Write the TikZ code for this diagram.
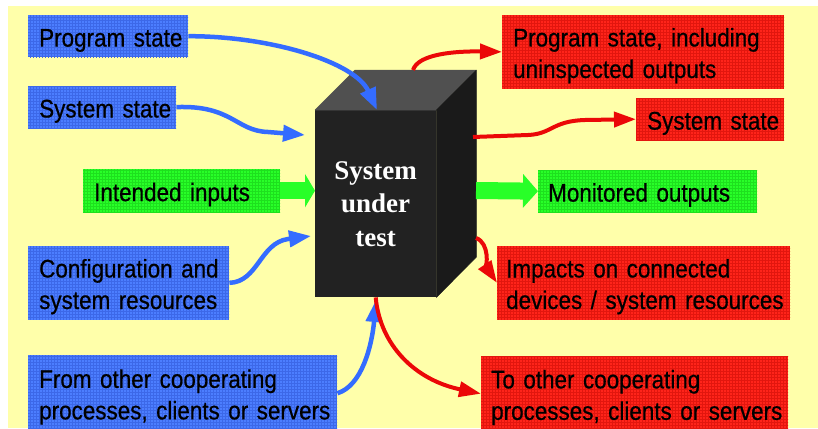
\documentclass[tikz,border=0pt]{standalone}
\usepackage{fontspec}
\newfontfamily\labelfont{Liberation Sans}[FakeStretch=0.88,FakeBold=0.6]
\newfontfamily\cubefont{Liberation Serif}
\usetikzlibrary{arrows.meta,patterns}

\definecolor{paper}{RGB}{255,255,170}
\definecolor{inbox}{RGB}{76,126,255}
\definecolor{inboxgrid}{RGB}{60,104,232}
\definecolor{outbox}{RGB}{255,36,26}
\definecolor{outboxgrid}{RGB}{226,22,14}
\definecolor{iobox}{RGB}{40,255,40}
\definecolor{ioboxgrid}{RGB}{30,224,30}
\definecolor{inflow}{RGB}{52,108,255}
\definecolor{outflow}{RGB}{235,8,8}
\definecolor{frontface}{RGB}{34,34,34}
\definecolor{topface}{RGB}{80,80,80}
\definecolor{sideface}{RGB}{26,26,26}

% struts fixing the first baseline and the last depth of each label
\newcommand\capstrut{\rule{0pt}{31.3pt}}
\newcommand\footstrut{\rule[-10.5pt]{0pt}{0pt}}

\begin{document}
\begin{tikzpicture}[x=1pt,y=-1pt,
  lbl/.style n args={4}{rectangle, anchor=north west, inner ysep=0pt,
    minimum width=#1, minimum height=#2, inner xsep=#3, text width=#4,
    align=left, text=black,
    font=\labelfont\fontsize{25.5}{31.5}\selectfont},
  inlbl/.style={fill=inbox, postaction={pattern=grid, pattern color=inboxgrid}},
  outlbl/.style={fill=outbox, postaction={pattern=grid, pattern color=outboxgrid}},
  iolbl/.style={fill=iobox, postaction={pattern=grid, pattern color=ioboxgrid}},
  inarrow/.style={draw=inflow, line width=4.5pt,
    -{Triangle[length=22pt,width=16pt]}},
  outarrow/.style={draw=outflow, line width=4pt,
    -{Triangle[length=22pt,width=15pt]}},
  flow/.style={draw=iobox, line width=17pt,
    -{Triangle[length=#1,width=33pt]}},
]
\path[use as bounding box, clip] (0,0) rectangle (818,428);
\fill[white] (0,0) rectangle (818,428);
\fill[paper] (8,6) rectangle (818,428);

% the system under test: a dark block with its front face as a node
\node[rectangle, anchor=north west, minimum width=121, minimum height=187,
      inner sep=0pt, fill=frontface, text=white, align=center,
      font=\cubefont\bfseries\fontsize{27}{33.5}\selectfont]
  (sut) at (315,110) {System\\under\\test};
\filldraw[topface, line width=0.5pt, line join=round]
  (sut.north west) -- ++(40,-40) -- ++(121,0) -- (sut.north east) -- cycle;
\filldraw[sideface, line width=0.5pt, line join=round]
  (sut.north east) -- ++(40,-40) -- ++(0,187) -- (sut.south east) -- cycle;

% inputs
\node[lbl={160}{42}{11}{138}, inlbl] (bps) at (28,15)
  {\mbox{\capstrut Program state\footstrut}};
\node[lbl={148}{41}{11}{126}, inlbl] (bss) at (28,86)
  {\mbox{\capstrut System state\footstrut}};
\node[lbl={197}{43}{11}{175}, iolbl] (gin) at (83,169)
  {\mbox{\capstrut Intended inputs\footstrut}};
\node[lbl={201}{73}{11}{179}, inlbl] (bcfg) at (28,246)
  {\mbox{\capstrut Configuration and}\\\mbox{system resources\footstrut}};
\node[lbl={309}{76}{11}{287}, inlbl] (bfrom) at (28,355)
  {\mbox{\capstrut From other cooperating}\\\mbox{processes, clients or servers\footstrut}};

% outputs
\node[lbl={282}{72}{11}{260}, outlbl] (rps) at (502,15)
  {\mbox{\capstrut Program state, including}\\\mbox{uninspected outputs\footstrut}};
\node[lbl={148}{42}{11}{126}, outlbl] (rss) at (636,98)
  {\mbox{\capstrut System state\footstrut}};
\node[lbl={219}{42}{10}{199}, iolbl] (gout) at (538,170)
  {\mbox{\capstrut Monitored outputs\footstrut}};
\node[lbl={293}{73}{9}{275}, outlbl] (rimp) at (497,246)
  {\mbox{\capstrut Impacts on connected}\\\mbox{devices / system resources\footstrut}};
\node[lbl={307}{75}{10}{287}, outlbl] (rto) at (481,356)
  {\mbox{\capstrut To other cooperating}\\\mbox{processes, clients or servers\footstrut}};

% contact points on the block
\coordinate (psin) at (377,110);
\coordinate (ssin) at (305,135);
\coordinate (cfgin) at (311,236);
\coordinate (fromin) at (376,300);
\coordinate (psout) at (413,70);
\coordinate (ssout) at (473,137);
\coordinate (impout) at (476,238);
\coordinate (moout) at (476,190.5);

% incoming influences
\draw[inarrow] (bps.east) .. controls (270,36) and (355,62) .. (psin);
\draw[inarrow] (bss.east) .. controls (232,105) and (236,131) .. (268,132) -- (ssin);
\draw[inarrow] (bcfg.east) .. controls (258,282) and (260,243) .. (288,239) -- (cfgin);
\draw[inarrow] (bfrom.east) .. controls (362,386) and (372,345) .. (fromin);

% outgoing effects
\draw[outarrow] (psout) .. controls (418,54) and (455,51) .. (rps.west);
\draw[outarrow] (ssout) -- (528,135) .. controls (552,134) and (552,121) .. (585,120) -- (rss.west);
\draw[outarrow] (impout) .. controls (490,243) and (487,268) .. (rimp.west);
\draw[outarrow] (sut.south) .. controls (380,345) and (415,380) .. (rto.west);

% main data flow
\draw[flow=10pt] (gin.east) -- (gin.east -| sut.west);
\draw[flow=15pt] (moout) -- (gout.west);
\end{tikzpicture}
\end{document}
